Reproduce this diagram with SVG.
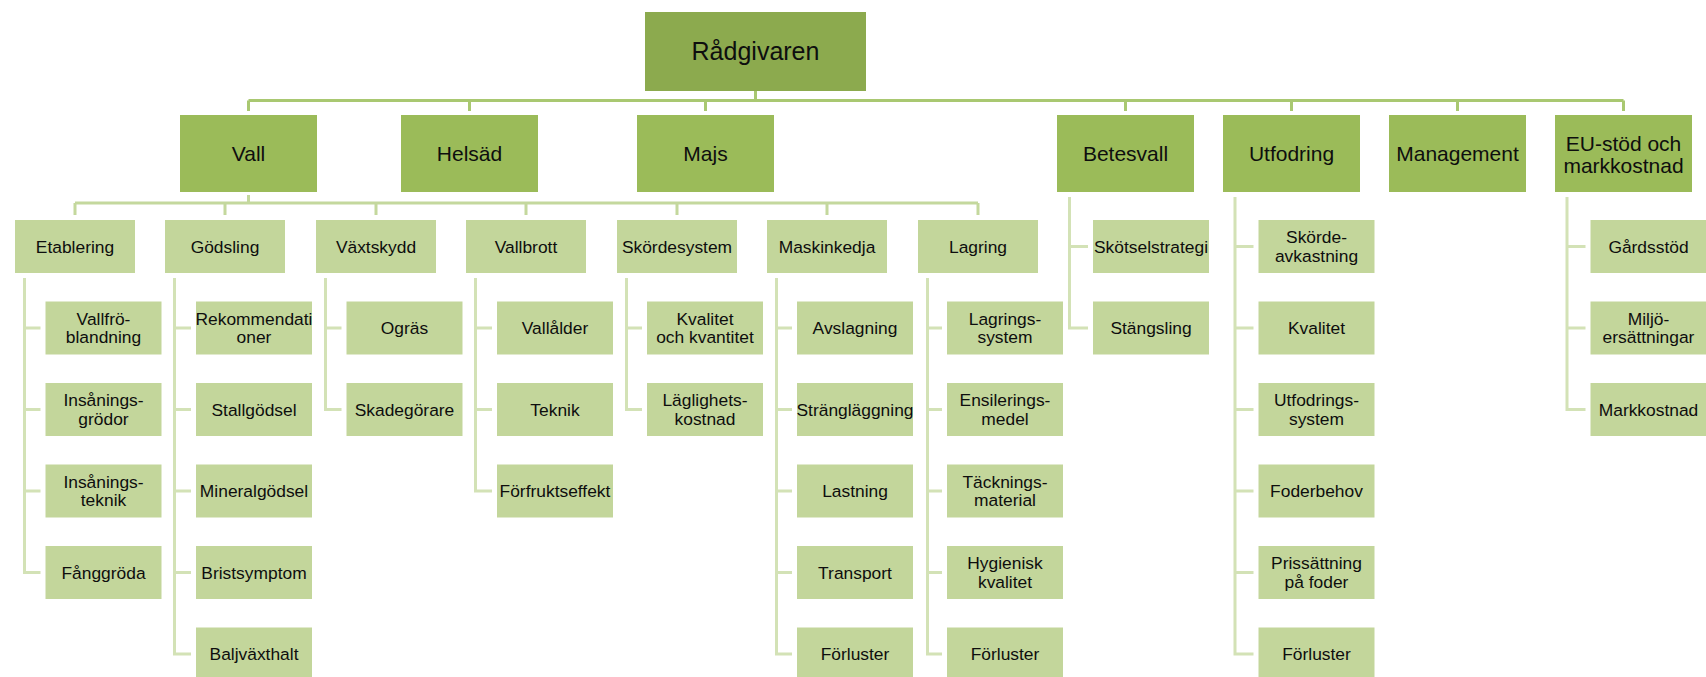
<svg xmlns="http://www.w3.org/2000/svg" width="1706" height="677" viewBox="0 0 1706 677">
<style>
text{font-family:"Liberation Sans",Arial,sans-serif;fill:#0E0E0E;text-anchor:middle}
.r0{fill:#8CAA4E}
.r1{fill:#9BBB59}
.r2{fill:#C3D69B}
.t0{font-size:25px}
.t1{font-size:21px}
.t2{font-size:17.4px}
.c0{fill:none;stroke:#A9C871;stroke-width:3}
.c1{fill:none;stroke:#C4D89D;stroke-width:3}
.c2{fill:none;stroke:#D3E2B6;stroke-width:3}
</style>
<rect width="1706" height="677" fill="#FFFFFF"/>
<g id="connectors">
<path class="c0" d="M755.5 91V100.5M248.5 100.5H1623.5M248.5 100.5V111M469.5 100.5V111M705.5 100.5V111M1125.5 100.5V111M1291.5 100.5V111M1457.5 100.5V111M1623.5 100.5V111"/>
<path class="c1" d="M248.5 195V203M75 203H978M75 203V215M225 203V215M376 203V215M526 203V215M677 203V215M827 203V215M978 203V215"/>
<path class="c2" d="M24.5 278V572.5H40.5M24.5 328H40.5M24.5 409.5H40.5M24.5 491H40.5"/>
<path class="c2" d="M174.5 278V654H191M174.5 328H191M174.5 409.5H191M174.5 491H191M174.5 572.5H191"/>
<path class="c2" d="M325.5 278V409.5H341.5M325.5 328H341.5"/>
<path class="c2" d="M475.5 278V491H492M475.5 328H492M475.5 409.5H492"/>
<path class="c2" d="M626.5 278V409.5H642M626.5 328H642"/>
<path class="c2" d="M776.5 278V654H792M776.5 328H792M776.5 409.5H792M776.5 491H792M776.5 572.5H792"/>
<path class="c2" d="M927.5 278V654H942M927.5 328H942M927.5 409.5H942M927.5 491H942M927.5 572.5H942"/>
<path class="c2" d="M1069.5 197V328H1088M1069.5 246.5H1088"/>
<path class="c2" d="M1235 197V654H1253.5M1235 246.5H1253.5M1235 328H1253.5M1235 409.5H1253.5M1235 491H1253.5M1235 572.5H1253.5"/>
<path class="c2" d="M1567 197V409.5H1585.5M1567 246.5H1585.5M1567 328H1585.5"/>
</g>

<g id="n-root"><rect class="r0" x="645" y="12" width="221" height="79"/><text class="t0" x="755.5" y="60">Rådgivaren</text></g>

<g id="n-vall"><rect class="r1" x="180" y="115" width="137" height="77"/><text class="t1" x="248.5" y="161">Vall</text></g>
<g id="n-helsad"><rect class="r1" x="401" y="115" width="137" height="77"/><text class="t1" x="469.5" y="161">Helsäd</text></g>
<g id="n-majs"><rect class="r1" x="637" y="115" width="137" height="77"/><text class="t1" x="705.5" y="161">Majs</text></g>
<g id="n-betesvall"><rect class="r1" x="1057" y="115" width="137" height="77"/><text class="t1" x="1125.5" y="161">Betesvall</text></g>
<g id="n-utfodring"><rect class="r1" x="1223" y="115" width="137" height="77"/><text class="t1" x="1291.5" y="161">Utfodring</text></g>
<g id="n-management"><rect class="r1" x="1389" y="115" width="137" height="77"/><text class="t1" x="1457.5" y="161">Management</text></g>
<g id="n-eu"><rect class="r1" x="1555" y="115" width="137" height="77"/><text class="t1" x="1623.5" y="150.5">EU-stöd och<tspan x="1623.5" dy="22.4">markkostnad</tspan></text></g>

<g id="n-etablering"><rect class="r2" x="15" y="220" width="120" height="53"/><text class="t2" x="75" y="252.5">Etablering</text></g>
<g id="n-godsling"><rect class="r2" x="165" y="220" width="120" height="53"/><text class="t2" x="225" y="252.5">Gödsling</text></g>
<g id="n-vaxtskydd"><rect class="r2" x="316" y="220" width="120" height="53"/><text class="t2" x="376" y="252.5">Växtskydd</text></g>
<g id="n-vallbrott"><rect class="r2" x="466" y="220" width="120" height="53"/><text class="t2" x="526" y="252.5">Vallbrott</text></g>
<g id="n-skordesystem"><rect class="r2" x="617" y="220" width="120" height="53"/><text class="t2" x="677" y="252.5">Skördesystem</text></g>
<g id="n-maskinkedja"><rect class="r2" x="767" y="220" width="120" height="53"/><text class="t2" x="827" y="252.5">Maskinkedja</text></g>
<g id="n-lagring"><rect class="r2" x="918" y="220" width="120" height="53"/><text class="t2" x="978" y="252.5">Lagring</text></g>

<g id="n-vallfro"><rect class="r2" x="45.5" y="301.5" width="116" height="53"/><text class="t2" x="103.5" y="324.8">Vallfrö-<tspan x="103.5" dy="18.4">blandning</tspan></text></g>
<g id="n-insgrodor"><rect class="r2" x="45.5" y="383" width="116" height="53"/><text class="t2" x="103.5" y="406.3">Insånings-<tspan x="103.5" dy="18.4">grödor</tspan></text></g>
<g id="n-insteknik"><rect class="r2" x="45.5" y="464.5" width="116" height="53"/><text class="t2" x="103.5" y="487.8">Insånings-<tspan x="103.5" dy="18.4">teknik</tspan></text></g>
<g id="n-fanggroda"><rect class="r2" x="45.5" y="546" width="116" height="53"/><text class="t2" x="103.5" y="578.5">Fånggröda</text></g>

<g id="n-rekommendationer"><rect class="r2" x="196" y="301.5" width="116" height="53"/><text class="t2" x="254" y="324.8">Rekommendati<tspan x="254" dy="18.4">oner</tspan></text></g>
<g id="n-stallgodsel"><rect class="r2" x="196" y="383" width="116" height="53"/><text class="t2" x="254" y="415.5">Stallgödsel</text></g>
<g id="n-mineralgodsel"><rect class="r2" x="196" y="464.5" width="116" height="53"/><text class="t2" x="254" y="497">Mineralgödsel</text></g>
<g id="n-bristsymptom"><rect class="r2" x="196" y="546" width="116" height="53"/><text class="t2" x="254" y="578.5">Bristsymptom</text></g>
<g id="n-baljvaxthalt"><rect class="r2" x="196" y="627.5" width="116" height="53"/><text class="t2" x="254" y="660">Baljväxthalt</text></g>

<g id="n-ogras"><rect class="r2" x="346.5" y="301.5" width="116" height="53"/><text class="t2" x="404.5" y="334">Ogräs</text></g>
<g id="n-skadegorare"><rect class="r2" x="346.5" y="383" width="116" height="53"/><text class="t2" x="404.5" y="415.5">Skadegörare</text></g>

<g id="n-vallalder"><rect class="r2" x="497" y="301.5" width="116" height="53"/><text class="t2" x="555" y="334">Vallålder</text></g>
<g id="n-teknik"><rect class="r2" x="497" y="383" width="116" height="53"/><text class="t2" x="555" y="415.5">Teknik</text></g>
<g id="n-forfrukt"><rect class="r2" x="497" y="464.5" width="116" height="53"/><text class="t2" x="555" y="497">Förfruktseffekt</text></g>

<g id="n-kvalkvant"><rect class="r2" x="647" y="301.5" width="116" height="53"/><text class="t2" x="705" y="324.8">Kvalitet<tspan x="705" dy="18.4">och kvantitet</tspan></text></g>
<g id="n-laglighet"><rect class="r2" x="647" y="383" width="116" height="53"/><text class="t2" x="705" y="406.3">Läglighets-<tspan x="705" dy="18.4">kostnad</tspan></text></g>

<g id="n-avslagning"><rect class="r2" x="797" y="301.5" width="116" height="53"/><text class="t2" x="855" y="334">Avslagning</text></g>
<g id="n-strang"><rect class="r2" x="797" y="383" width="116" height="53"/><text class="t2" x="855" y="415.5">Strängläggning</text></g>
<g id="n-lastning"><rect class="r2" x="797" y="464.5" width="116" height="53"/><text class="t2" x="855" y="497">Lastning</text></g>
<g id="n-transport"><rect class="r2" x="797" y="546" width="116" height="53"/><text class="t2" x="855" y="578.5">Transport</text></g>
<g id="n-forluster1"><rect class="r2" x="797" y="627.5" width="116" height="53"/><text class="t2" x="855" y="660">Förluster</text></g>

<g id="n-lagsystem"><rect class="r2" x="947" y="301.5" width="116" height="53"/><text class="t2" x="1005" y="324.8">Lagrings-<tspan x="1005" dy="18.4">system</tspan></text></g>
<g id="n-ensilering"><rect class="r2" x="947" y="383" width="116" height="53"/><text class="t2" x="1005" y="406.3">Ensilerings-<tspan x="1005" dy="18.4">medel</tspan></text></g>
<g id="n-tackning"><rect class="r2" x="947" y="464.5" width="116" height="53"/><text class="t2" x="1005" y="487.8">Täcknings-<tspan x="1005" dy="18.4">material</tspan></text></g>
<g id="n-hygienisk"><rect class="r2" x="947" y="546" width="116" height="53"/><text class="t2" x="1005" y="569.3">Hygienisk<tspan x="1005" dy="18.4">kvalitet</tspan></text></g>
<g id="n-forluster2"><rect class="r2" x="947" y="627.5" width="116" height="53"/><text class="t2" x="1005" y="660">Förluster</text></g>

<g id="n-skotsel"><rect class="r2" x="1093" y="220" width="116" height="53"/><text class="t2" x="1151" y="252.5">Skötselstrategi</text></g>
<g id="n-stangsling"><rect class="r2" x="1093" y="301.5" width="116" height="53"/><text class="t2" x="1151" y="334">Stängsling</text></g>

<g id="n-skordeavk"><rect class="r2" x="1258.5" y="220" width="116" height="53"/><text class="t2" x="1316.5" y="243.3">Skörde-<tspan x="1316.5" dy="18.4">avkastning</tspan></text></g>
<g id="n-kvalitet"><rect class="r2" x="1258.5" y="301.5" width="116" height="53"/><text class="t2" x="1316.5" y="334">Kvalitet</text></g>
<g id="n-utfsystem"><rect class="r2" x="1258.5" y="383" width="116" height="53"/><text class="t2" x="1316.5" y="406.3">Utfodrings-<tspan x="1316.5" dy="18.4">system</tspan></text></g>
<g id="n-foderbehov"><rect class="r2" x="1258.5" y="464.5" width="116" height="53"/><text class="t2" x="1316.5" y="497">Foderbehov</text></g>
<g id="n-prissattning"><rect class="r2" x="1258.5" y="546" width="116" height="53"/><text class="t2" x="1316.5" y="569.3">Prissättning<tspan x="1316.5" dy="18.4">på foder</tspan></text></g>
<g id="n-forluster3"><rect class="r2" x="1258.5" y="627.5" width="116" height="53"/><text class="t2" x="1316.5" y="660">Förluster</text></g>

<g id="n-gardsstod"><rect class="r2" x="1590.5" y="220" width="116" height="53"/><text class="t2" x="1648.5" y="252.5">Gårdsstöd</text></g>
<g id="n-miljo"><rect class="r2" x="1590.5" y="301.5" width="116" height="53"/><text class="t2" x="1648.5" y="324.8">Miljö-<tspan x="1648.5" dy="18.4">ersättningar</tspan></text></g>
<g id="n-markkostnad"><rect class="r2" x="1590.5" y="383" width="116" height="53"/><text class="t2" x="1648.5" y="415.5">Markkostnad</text></g>
</svg>
